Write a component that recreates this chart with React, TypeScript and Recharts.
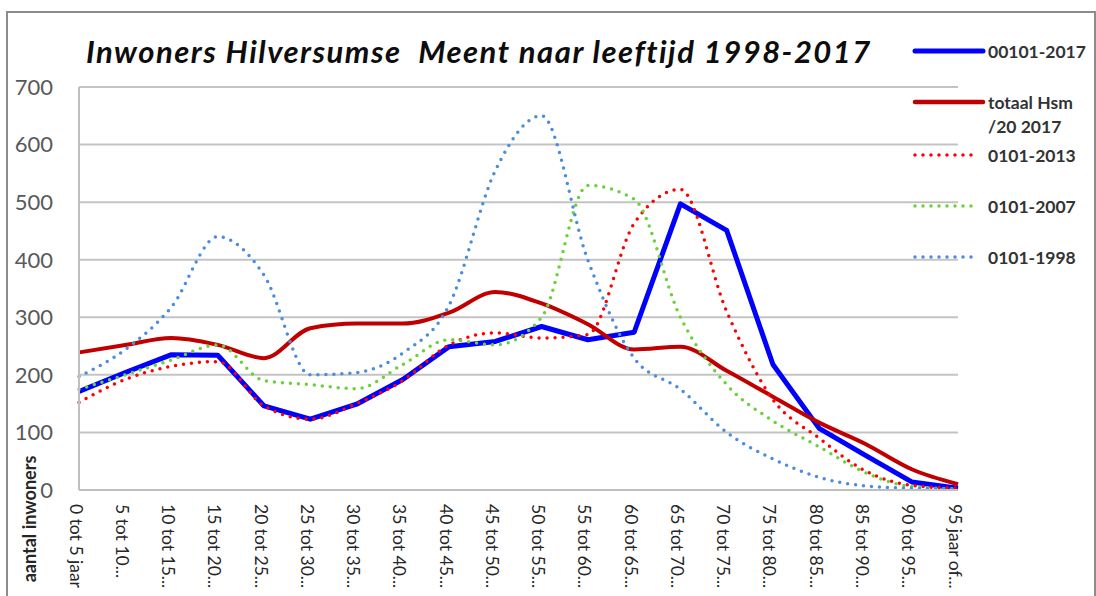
import React from 'react';
import {LineChart, Line, XAxis, YAxis, CartesianGrid, Legend} from 'recharts';

const ages = [
    '0 tot 5 jaar', '5 tot 10...', '10 tot 15...', '15 tot 20...', '20 tot 25...',
    '25 tot 30...', '30 tot 35...', '35 tot 40...', '40 tot 45...', '45 tot 50...',
    '50 tot 55...', '55 tot 60...', '60 tot 65...', '65 tot 70...', '70 tot 75...',
    '75 tot 80...', '80 tot 85...', '85 tot 90...', '90 tot 95...', '95 jaar of...',
];

const inw2017 = [171, 204, 235, 234, 146, 123, 149, 192, 249, 258, 284, 261, 274, 497, 451, 218, 107, 60, 14, 3];
const totaal2017 = [239, 252, 264, 252, 229, 281, 289, 289, 308, 344, 324, 288, 244, 249, 207, 162, 117, 80, 36, 10];
const inw2013 = [152, 192, 215, 223, 146, 123, 150, 190, 252, 273, 264, 270, 463, 522, 310, 157, 90, 33, 8, 3];
const inw2007 = [175, 200, 226, 252, 190, 183, 176, 218, 261, 252, 300, 529, 505, 300, 183, 120, 75, 30, 6, 2];
const inw1998 = [197, 244, 318, 440, 373, 200, 204, 238, 321, 555, 650, 399, 229, 175, 100, 54, 22, 7, 3, 2];

const yTicks = [0, 100, 200, 300, 400, 500, 600, 700];

const data = ages.map((age, i) => ({
    age,
    s2017: inw2017[i],
    tot: totaal2017[i],
    s2013: inw2013[i],
    s2007: inw2007[i],
    s1998: inw1998[i],
}));

const FONT = 'Lato, "Open Sans", sans-serif';

const legendItems = [
    {lines: ['00101-2017'], color: '#0000ff', width: 5, dotted: false, y: 21},
    {lines: ['totaal Hsm', '/20 2017'], color: '#c00000', width: 4.5, dotted: false, y: 72},
    {lines: ['0101-2013'], color: '#ff0000', width: 3.5, dotted: true, y: 125},
    {lines: ['0101-2007'], color: '#6ad13c', width: 3.5, dotted: true, y: 176},
    {lines: ['0101-1998'], color: '#4a8edb', width: 3.5, dotted: true, y: 227},
];

const AgeTick = ({x, y, payload}: any) => (
    <g transform={`translate(${x - 3},${y + 14})`}>
        <text transform="rotate(90)" textAnchor="start" dominantBaseline="central"
              fontFamily={FONT} fontSize={17.5} fill="#262626">{payload.value}</text>
    </g>
);

const renderLegend = () => (
    <svg width={190} height={250}>
        {legendItems.map((item) => (
            <g key={item.lines[0]}>
                <line x1={10} x2={item.dotted ? 74 : 78} y1={item.y} y2={item.y} stroke={item.color}
                      strokeWidth={item.width} strokeLinecap="round"
                      strokeDasharray={item.dotted ? '0 8' : undefined}/>
                {item.lines.map((t, j) => (
                    <text key={t} x={83} y={item.y + j * 24} dominantBaseline="central" fontFamily={FONT}
                          fontWeight="bold" fontSize={17.5} fill="#333">{t}</text>
                ))}
            </g>
        ))}
    </svg>
);

const App = (): JSX.Element => {
    return (
        <div style={{position: 'absolute', left: 0, top: 0, width: 1096, height: 596, overflow: 'hidden', background: '#fff'}}>
            <div style={{position: 'absolute', left: 6, top: 11, width: 1086, height: 600, border: '2px solid #8c8c8c'}}/>
            <LineChart width={1096} height={596} data={data}
                       margin={{top: 87, right: 138, bottom: 0, left: 19}}>
                <text x={86} y={63} fontFamily={FONT} fontWeight="bold" fontStyle="italic" fontSize={31}
                      letterSpacing={1.5} fill="#0d0d0d" style={{whiteSpace: 'pre'}}>Inwoners Hilversumse  Meent naar leeftijd 1998-2017</text>
                <text transform="translate(29,519) rotate(-90)" textAnchor="middle" dominantBaseline="central"
                      fontFamily={FONT} fontWeight="bold" fontSize={18} fill="#262626">aantal inwoners</text>
                <CartesianGrid vertical={false} stroke="#c4c4c4" strokeWidth={2}/>
                <XAxis dataKey="age" type="category" height={106} interval={0} tickSize={0} tickMargin={0}
                       axisLine={{stroke: '#bfbfbf', strokeWidth: 2}} tickLine={false} tick={<AgeTick/>}/>
                <YAxis type="number" domain={[0, 700]} ticks={yTicks} width={60} tickSize={0} tickMargin={26}
                       axisLine={{stroke: '#bfbfbf', strokeWidth: 2}} tickLine={false}
                       tick={{fill: '#595959', fontSize: 22, fontFamily: FONT}}/>
                <Legend layout="vertical" align="center" verticalAlign="middle" content={renderLegend}
                        wrapperStyle={{left: 905, top: 30, width: 190, height: 250}}/>
                <Line dataKey="s2017" type="linear" stroke="#0000ff" strokeWidth={5} dot={false}
                      strokeLinejoin="round" isAnimationActive={false}/>
                <Line dataKey="tot" type="monotone" stroke="#c00000" strokeWidth={4} dot={false}
                      isAnimationActive={false}/>
                <Line dataKey="s2013" type="monotone" stroke="#ff0000" strokeWidth={3.5} dot={false}
                      strokeDasharray="0 8" strokeLinecap="round" isAnimationActive={false}/>
                <Line dataKey="s2007" type="monotone" stroke="#6ad13c" strokeWidth={3.5} dot={false}
                      strokeDasharray="0 8" strokeLinecap="round" isAnimationActive={false}/>
                <Line dataKey="s1998" type="monotone" stroke="#4a8edb" strokeWidth={3.5} dot={false}
                      strokeDasharray="0 8" strokeLinecap="round" isAnimationActive={false}/>
            </LineChart>
        </div>
    );
}

export default App;
